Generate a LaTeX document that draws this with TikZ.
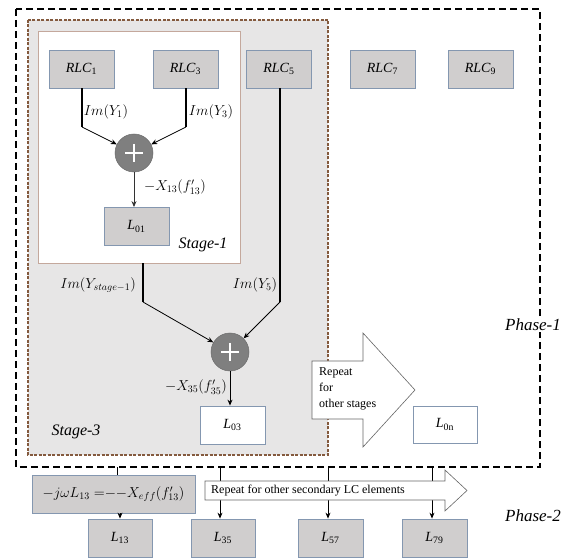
\documentclass[tikz,border=0pt]{standalone}
\usepackage{fontspec}
\setmainfont{Liberation Serif}
\usetikzlibrary{arrows.meta,calc}
\definecolor{boxfill}{HTML}{D0CECE}
\definecolor{boxedge}{HTML}{8497B0}
\definecolor{stagebg}{HTML}{E7E6E6}
\definecolor{brownedge}{HTML}{845A3E}
\definecolor{stageedge}{HTML}{C4A89C}
\definecolor{sumfill}{HTML}{7F7F7F}
\tikzset{
  gbox/.style={draw=boxedge, fill=boxfill, line width=0.8pt, minimum width=65pt, minimum height=38pt, inner sep=0pt, font=\fontsize{14}{16}\selectfont},
  wbox/.style={gbox, fill=white},
  sumnode/.style={circle, fill=sumfill, draw=sumfill!85!black, line width=0.5pt, minimum size=38pt, inner sep=0pt},
  thickline/.style={line width=1.6pt, black},
  diag/.style={line width=0.8pt, -{Stealth[length=6pt,width=5pt]}},
  downarr/.style={line width=1pt, -{Stealth[length=6pt,width=5pt]}},
  lbl/.style={font=\fontsize{14.5}{16}\selectfont, inner sep=0pt},
  stagelbl/.style={font=\fontsize{16}{18}\selectfont\itshape, inner sep=0pt},
  phaselbl/.style={font=\fontsize{17}{19}\selectfont\itshape, inner sep=1pt},
  bigarrow/.style={draw=black!60, fill=white, line width=0.6pt},
}
\newcommand{\plussign}[1]{%
  \draw[white, line width=1.2pt] ($(#1)+(-9,0)$) -- ($(#1)+(9,0)$) ($(#1)+(0,-9)$) -- ($(#1)+(0,9)$);}
\begin{document}
\begin{tikzpicture}[x=1pt,y=-1pt]
\useasboundingbox (0,0) rectangle (574,559);

% Phase-1 frame, Stage-3 area and Stage-1 area
\draw[line width=1.5pt, dash pattern=on 7pt off 4pt] (16,9) rectangle (540,467);
\draw[fill=stagebg, draw=brownedge, line width=1.2pt, dash pattern=on 3pt off 1.5pt] (28,20) rectangle (328,455);
\node[draw=stageedge, fill=white, line width=0.8pt, minimum width=202pt, minimum height=232pt, inner sep=0pt] (st1) at (139,147) {};

% source elements
\node[gbox] (rlc1) at (81.5,69) {\textit{RLC}\textsubscript{1}};
\node[gbox] (rlc3) at (185.5,69) {\textit{RLC}\textsubscript{3}};
\node[gbox] (rlc5) at (279,69) {\textit{RLC}\textsubscript{5}};
\node[gbox] (rlc7) at (382.5,69) {\textit{RLC}\textsubscript{7}};
\node[gbox] (rlc9) at (480.5,69) {\textit{RLC}\textsubscript{9}};

% Stage-1 summation
\node[sumnode] (s1) at (134,153) {};
\plussign{s1}
\coordinate (k1) at (82,127);
\coordinate (k2) at (186,127);
\draw[thickline] (rlc1.south -| k1) -- (k1);
\draw[thickline] (rlc3.south -| k2) -- (k2);
\draw[diag] (k1) -- (s1);
\draw[diag] (k2) -- (s1);
\node[lbl] (ly1) at (106,112) {$Im(Y_1)$};
\node[lbl] (ly3) at (211,112) {$Im(Y_3)$};

\node[gbox] (l01) at (136.5,226.5) {\textit{L}\textsubscript{01}};
\draw[downarr, black!80] (s1.south) -- (s1.south |- l01.north);
\node[lbl] (lx13) at (175,187) {$-X_{13}(f'_{13})$};
\node[stagelbl] (lst1) at (203,245) {Stage-1};

% Stage-3 summation
\node[sumnode] (s2) at (230,352) {};
\plussign{s2}
\coordinate (k3) at (143,302);
\coordinate (k4) at (280,302);
\draw[thickline] (k3 |- st1.south) -- (k3);
\draw[thickline] (rlc5.south -| k4) -- (k4);
\draw[diag] (k3) -- (s2);
\draw[diag] (k4) -- (s2);
\node[lbl] (lys) at (98,285) {$Im\big(Y_{stage-1}\big)$};
\node[lbl] (ly5) at (255,285) {$Im(Y_5)$};

\node[wbox] (l03) at (232.5,425) {\textit{L}\textsubscript{03}};
\draw[downarr] (s2.south) -- (s2.south |- l03.north);
\node[lbl] (lx35) at (196,387) {$-X_{35}(f'_{35})$};
\node[stagelbl] (lst3) at (76,432) {Stage-3};

% repeat arrow for the further stages
\draw[bigarrow] (312,361) -- (363,361) -- (363,333) -- (415,390) -- (363,447) -- (363,419) -- (312,419) -- cycle;
\node[font=\fontsize{12}{16}\selectfont, align=left, anchor=north west, inner sep=0pt] (rep1) at (319,367) {Repeat\\for\\other stages};
\node[wbox, minimum width=64pt, minimum height=37pt] (l0n) at (445,424.5) {\textit{L}\textsubscript{0n}};

\node[phaselbl, fill=white] (ph1) at (533,325) {Phase-1};

% Phase-2
\node[gbox, minimum width=163pt, font=\fontsize{14.5}{16}\selectfont] (eq) at (113.5,494) {$-j\omega L_{13}\;{=}{-}{-}X_{eff}(f'_{13})$};
\node[gbox, minimum width=64pt] (l13) at (120,538) {\textit{L}\textsubscript{13}};
\node[gbox, minimum width=64pt] (l35) at (223,538) {\textit{L}\textsubscript{35}};
\node[gbox] (l57) at (330.5,538) {\textit{L}\textsubscript{57}};
\node[gbox] (l79) at (434.5,538) {\textit{L}\textsubscript{79}};

\coordinate (t0) at (117,467);
\coordinate (t1) at (220,467);
\coordinate (t2) at (328,467);
\coordinate (t3) at (432,467);
\draw[line width=0.8pt] (t0) -- (t0 |- eq.north);
\draw[downarr, line width=0.8pt] (eq.south -| l13) -- (l13.north);
\draw[downarr, line width=0.8pt] (t1) -- (t1 |- l35.north);
\draw[downarr, line width=0.8pt] (t2) -- (t2 |- l57.north);
\draw[downarr, line width=0.8pt] (t3) -- (t3 |- l79.north);

\draw[bigarrow] (205,481) -- (445,481) -- (445,470) -- (467,490.5) -- (445,511) -- (445,500) -- (205,500) -- cycle;
\node[font=\fontsize{12}{14}\selectfont, anchor=west, inner sep=0pt] (rep2) at (211,490.5) {Repeat for other secondary LC elements};

\node[phaselbl] (ph2) at (533,516) {Phase-2};
\end{tikzpicture}
\end{document}
